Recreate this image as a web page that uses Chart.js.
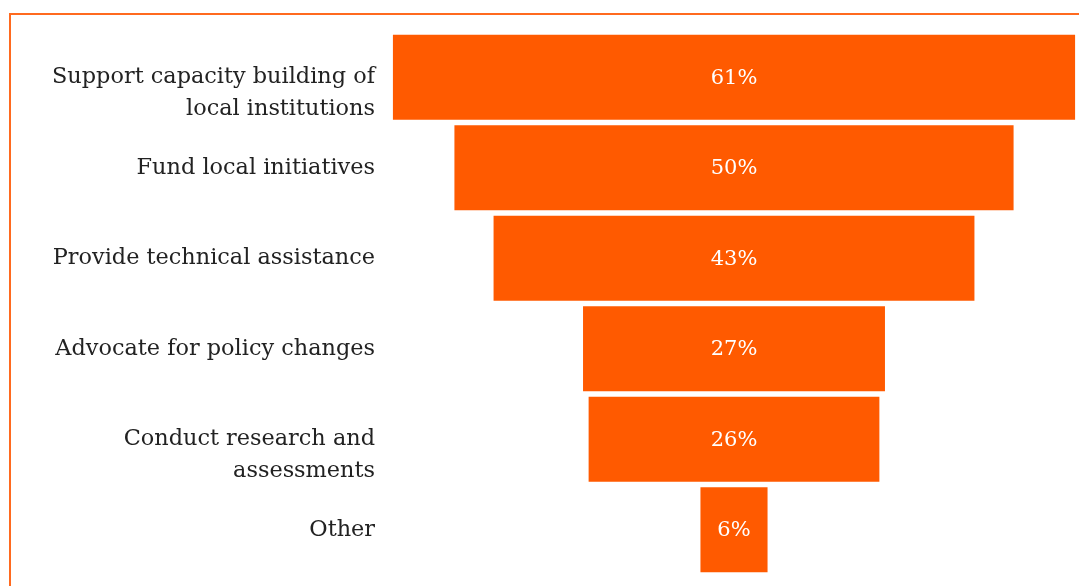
<!DOCTYPE html>
<html>
<head>
<meta charset="utf-8">
<script src="https://cdn.jsdelivr.net/npm/chart.js@4.4.1/dist/chart.umd.min.js"></script>
<style>
    html, body {
        margin: 0;
        padding: 0;
        background: #ffffff;
        overflow: hidden;
    }
    .frame {
        position: absolute;
        left: 9px;
        top: 13px;
        width: 1200px;
        height: 700px;
        border: 2px solid #ff6a1f;
        box-sizing: border-box;
    }
    .chart-box {
        position: absolute;
        left: 0;
        top: 0;
        width: 1079px;
        height: 586px;
    }
</style>
</head>
<body>
<div class="frame"></div>
<div class="chart-box"><canvas id="funnelChart"></canvas></div>
<script>
// A leading blank line keeps the first line of a wrapped label level with its bar
const categories = [
    ['', 'Support capacity building of', 'local institutions'],
    'Fund local initiatives',
    'Provide technical assistance',
    'Advocate for policy changes',
    ['', 'Conduct research and', 'assessments'],
    'Other'
];
const shares = [61, 50, 43, 27, 26, 6];

const FONT = "'DejaVu Serif', 'Liberation Serif', serif";
const BAR_COLOR = '#ff5a00';

// Each bar floats symmetrically around zero so the stack reads as a funnel
const funnelData = shares.map(v => [-v / 2, v / 2]);

// Writes the percentage in the middle of every bar
const valueLabels = {
    id: 'valueLabels',
    afterDatasetsDraw(chart) {
        const ctx = chart.ctx;
        const meta = chart.getDatasetMeta(0);
        ctx.save();
        ctx.fillStyle = '#ffffff';
        ctx.font = "21px " + FONT;
        ctx.textAlign = 'center';
        ctx.textBaseline = 'middle';
        meta.data.forEach((bar, i) => {
            ctx.fillText(shares[i] + '%', bar.base + (bar.x - bar.base) / 2, bar.y + 1);
        });
        ctx.restore();
    }
};

const ctx = document.getElementById('funnelChart').getContext('2d');
new Chart(ctx, {
    type: 'bar',
    data: {
        labels: categories,
        datasets: [{
            data: funnelData,
            backgroundColor: BAR_COLOR,
            borderWidth: 0,
            categoryPercentage: 1,
            barPercentage: 0.94
        }]
    },
    options: {
        indexAxis: 'y',
        responsive: true,
        maintainAspectRatio: false,
        animation: false,
        layout: {
            padding: { top: 32, bottom: 11, left: 0, right: 0 }
        },
        plugins: {
            legend: { display: false },
            tooltip: { enabled: false }
        },
        scales: {
            x: {
                min: -30.85,
                max: 30.85,
                display: false
            },
            y: {
                grid: { display: false, drawTicks: false },
                border: { display: false },
                afterFit(scale) {
                    scale.width = 389;
                    scale.paddingTop = 0;
                    scale.paddingBottom = 0;
                },
                ticks: {
                    autoSkip: false,
                    color: '#222222',
                    padding: 14,
                    font: { family: FONT, size: 22.4, lineHeight: 1.43 }
                }
            }
        }
    },
    plugins: [valueLabels]
});
</script>
</body>
</html>
